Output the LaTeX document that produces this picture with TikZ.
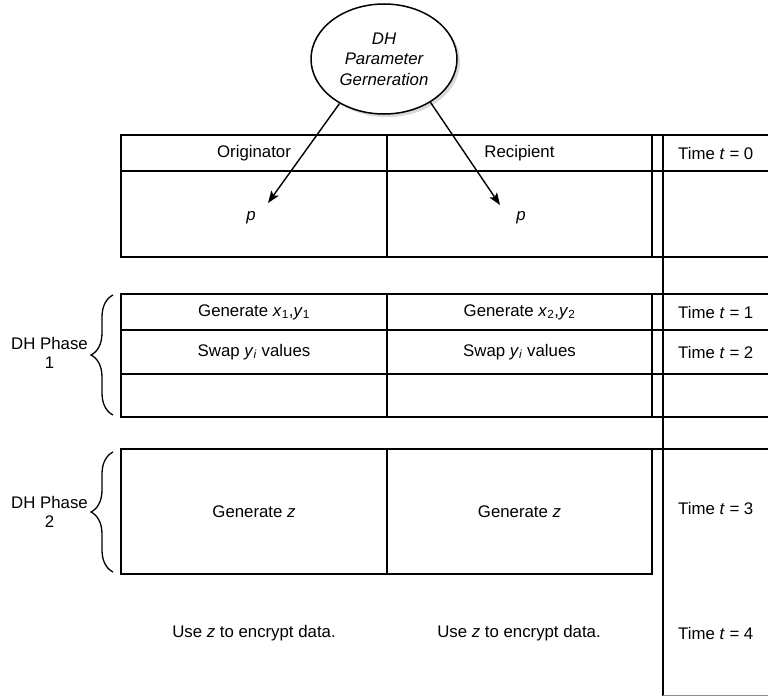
\documentclass[tikz,border=0pt]{standalone}
\usepackage{fontspec}
\setmainfont{Liberation Sans}
\usetikzlibrary{shapes.geometric,arrows.meta,decorations.pathreplacing,shadows}
\begin{document}
\begin{tikzpicture}[x=1pt,y=-1pt,
  rule/.style={line width=1.6pt, line cap=rect},
  celltext/.style={inner sep=0pt, font=\fontsize{16.8}{20}\selectfont},
  timetext/.style={celltext, anchor=west},
  phaselabel/.style={align=center, anchor=east, inner sep=0pt, font=\fontsize{16.8}{19}\selectfont},
  phasebrace/.style={decorate, decoration={brace, amplitude=22pt}, line width=1.3pt},
  feed/.style={line width=1.4pt, -{Stealth[length=12pt,width=9pt,inset=2.5pt]}},
]
\useasboundingbox (0,0) rectangle (768,696);

% parameter generation bubble
\node[ellipse, draw, line width=1.5pt, fill=white, minimum width=146pt, minimum height=110pt,
      inner sep=0pt, align=center, font=\fontsize{16.8}{20.5}\selectfont\itshape,
      drop shadow={shadow xshift=3pt, shadow yshift=-3pt, fill=black!15, opacity=1}]
      (gen) at (384,59) {DH\\Parameter\\Gerneration};

% table frames
\draw[rule] (121,135) rectangle (652,257);
\draw[rule] (121,171) -- (652,171);
\draw[rule] (387,135) -- (387,257);

\draw[rule] (121,294) rectangle (652,417);
\draw[rule] (121,330) -- (652,330);
\draw[rule] (121,374) -- (652,374);
\draw[rule] (387,294) -- (387,417);

\draw[rule] (121,449) rectangle (652,574);
\draw[rule] (387,449) -- (387,574);

% time column
\foreach \yy in {135,171,257,294,330,374,417,449}
  \draw[rule] (652,\yy) -- (768,\yy);
\draw[rule] (663,135) -- (663,695);
\draw[line width=1pt, black!45] (663,695) -- (768,695);

% header row
\node[celltext] (orig) at (254,153) {Originator};
\node[celltext] (recip) at (519.5,153) {Recipient};
\node[timetext] (t0) at (678,153) {Time \textit{t} = 0};

% shared parameter
\node[celltext] (pL) at (251,218) {\textit{p}};
\node[celltext] (pR) at (521,218) {\textit{p}};
\coordinate (tipL) at (268,203);
\coordinate (tipR) at (500,205);
\draw[feed] (gen.225) -- (tipL);
\draw[feed] (gen.317) -- (tipR);

% phase 1
\node[celltext] (gen1) at (254,312) {Generate \textit{x}\textsubscript{1},\textit{y}\textsubscript{1}};
\node[celltext] (gen2) at (519.5,312) {Generate \textit{x}\textsubscript{2},\textit{y}\textsubscript{2}};
\node[timetext] (t1) at (678,312) {Time \textit{t} = 1};
\node[celltext] (swap1) at (254,352) {Swap \textit{y}\textsubscript{\textit{i}} values};
\node[celltext] (swap2) at (519.5,352) {Swap \textit{y}\textsubscript{\textit{i}} values};
\node[timetext] (t2) at (678,352) {Time \textit{t} = 2};

% phase 2
\node[celltext] (genz1) at (254,512) {Generate \textit{z}};
\node[celltext] (genz2) at (519.5,512) {Generate \textit{z}};
\node[timetext] (t3) at (678,508) {Time \textit{t} = 3};

% afterwards
\node[celltext] (use1) at (254,633) {Use \textit{z} to encrypt data.};
\node[celltext] (use2) at (519,633) {Use \textit{z} to encrypt data.};
\node[timetext] (t4) at (678,633) {Time \textit{t} = 4};

% phase braces
\draw[phasebrace] (113,415) -- (113,295);
\draw[phasebrace] (113,572) -- (113,452);
\node[phaselabel] (ph1) at (88,353) {DH Phase\\1};
\node[phaselabel] (ph2) at (88,512) {DH Phase\\2};
\end{tikzpicture}
\end{document}
